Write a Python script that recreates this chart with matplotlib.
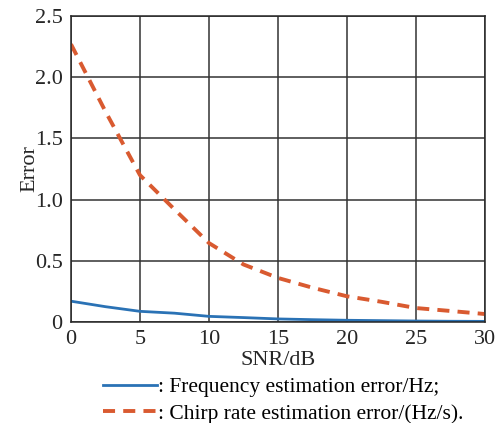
import matplotlib
matplotlib.use("Agg")
import matplotlib.pyplot as plt

plt.rcParams['font.family'] = ['Liberation Serif', 'DejaVu Serif']

snr = [0, 2.5, 5, 7.5, 10, 12.5, 15, 17.5, 20, 22.5, 25, 27.5, 30]
freq_err = [0.17, 0.125, 0.087, 0.072, 0.046, 0.036, 0.025, 0.019, 0.014, 0.011, 0.008, 0.006, 0.005]
chirp_err = [2.27, 1.72, 1.20, 0.92, 0.645, 0.47, 0.36, 0.28, 0.21, 0.165, 0.114, 0.09, 0.065]

yticks = [0, 0.5, 1.0, 1.5, 2.0, 2.5]
ytick_labels = ['0', '0.5', '1.0', '1.5', '2.0', '2.5']
xticks = [0, 5, 10, 15, 20, 25, 30]

fig = plt.figure(figsize=(5.01, 4.23), dpi=100)
ax = fig.add_axes([0.1417, 0.2388, 0.8263, 0.7232])

l1, = ax.plot(snr, freq_err, color='#2a72b5', lw=2.0)
l2, = ax.plot(snr, chirp_err, color='#d95a30', lw=2.8, dashes=(3.1, 2.1))

ax.set_xlim(0, 30)
ax.set_ylim(0, 2.5)
ax.set_xticks(xticks)
ax.set_yticks(yticks)
ax.set_yticklabels(ytick_labels)
ax.grid(True, color='#333333', lw=1.1)
ax.set_axisbelow(True)
for s in ax.spines.values():
    s.set_color('#262626')
    s.set_linewidth(1.1)
ax.tick_params(length=0, labelsize=16, colors='#262626')
ax.tick_params(axis='y', pad=6)
ax.tick_params(axis='x', pad=6)

ax.set_xlabel('SNR/dB', fontsize=16, labelpad=1, color='#262626')
ax.set_ylabel('Error', fontsize=16, labelpad=-3, color='#262626')

fig.legend([l1, l2],
           [': Frequency estimation error/Hz;', ': Chirp rate estimation error/(Hz/s).'],
           loc='upper left', bbox_to_anchor=(0.205, 0.108), frameon=False,
           fontsize=15.5, handlelength=2.5, handletextpad=0.05, labelspacing=0.3,
           borderpad=0, borderaxespad=0)

fig.savefig('out.png', dpi=100)
